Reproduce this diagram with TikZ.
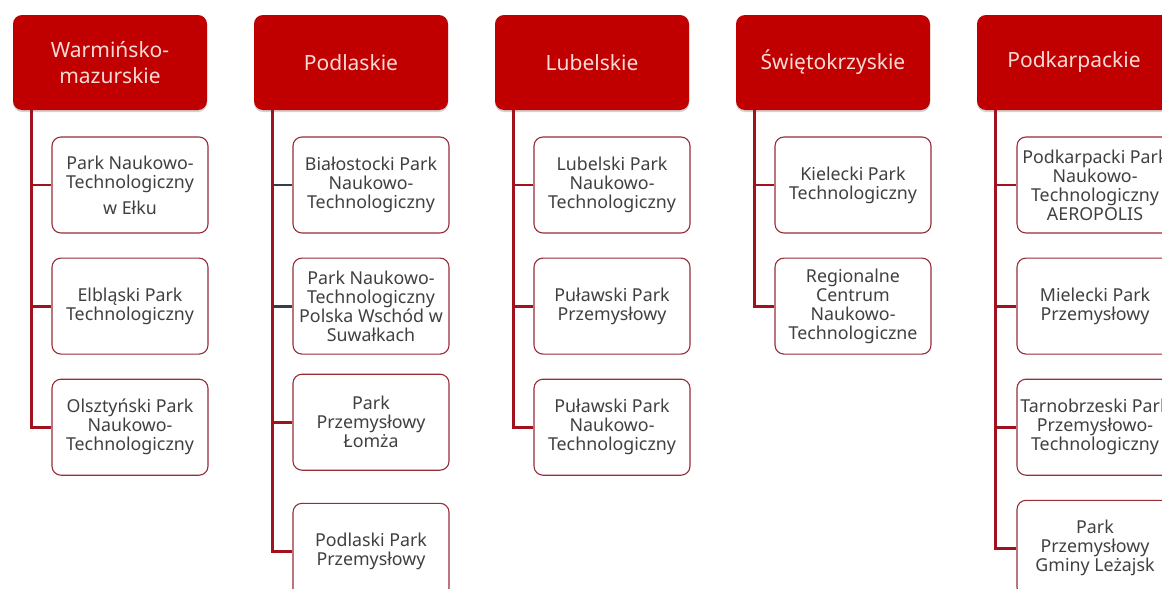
\documentclass[tikz,border=0pt]{standalone}
\usepackage{fontspec}
\setmainfont{Noto Sans}
\usetikzlibrary{positioning,shadows}

\definecolor{regionred}{RGB}{192,0,0}
\definecolor{regiontext}{RGB}{250,218,214}
\definecolor{parkedge}{RGB}{150,45,55}
\definecolor{parktext}{RGB}{64,64,64}
\definecolor{linkred}{RGB}{160,18,30}
\definecolor{linkdark}{RGB}{50,62,78}

\begin{document}
\begin{tikzpicture}[x=1pt,y=-1pt,
  region/.style={fill=regionred, rounded corners=9pt, minimum width=194pt,
    minimum height=95pt, text=regiontext, align=center,
    font=\fontsize{21}{26}\selectfont,
    drop shadow={shadow xshift=0pt, shadow yshift=-2pt, opacity=0.35}},
  park/.style={draw=parkedge, line width=1.1pt, fill=white, rounded corners=9pt,
    minimum width=156pt, minimum height=96pt, text=parktext, align=center,
    font=\fontsize{17.8}{19}\selectfont},
  link/.style={draw=linkred, line width=2.8pt},
  node distance=24pt]

\path[use as bounding box, fill=white] (0,0) rectangle (1162,589);
\clip (0,0) rectangle (1162,589);

% Warminsko-mazurskie
\node[region] (wm) at (110,62.5) {Warmińsko-\\mazurskie};
\node[park] (wm1) at (130,185) {Park Naukowo-\\Technologiczny\\[7pt]w Ełku};
\node[park, below=of wm1] (wm2) {Elbląski Park\\Technologiczny};
\node[park, below=of wm2] (wm3) {Olsztyński Park\\Naukowo-\\Technologiczny};
\coordinate (wms) at ([xshift=19pt]wm.south west);
\draw[link] (wms) |- (wm3.west);
\foreach \p in {wm1,wm2} \draw[link] (wms |- \p.west) -- (\p.west);

% Podlaskie
\node[region] (pl) at (351,62.5) {Podlaskie};
\node[park] (pl1) at (371,185) {Białostocki Park\\Naukowo-\\Technologiczny};
\node[park, below=of pl1] (pl2) {Park Naukowo-\\Technologiczny\\Polska Wschód w\\Suwałkach};
\node[park, below=19pt of pl2] (pl3) {Park\\Przemysłowy\\Łomża};
\node[park, below=32pt of pl3] (pl4) {Podlaski Park\\Przemysłowy};
\coordinate (pls) at ([xshift=19pt]pl.south west);
\draw[link] (pls) |- (pl4.west);
\draw[link] (pls |- pl3.west) -- (pl3.west);
\foreach \p in {pl1,pl2} \draw[link, draw=linkdark] (pls |- \p.west) -- (\p.west);

% Lubelskie
\node[region] (lb) at (592,62.5) {Lubelskie};
\node[park] (lb1) at (612,185) {Lubelski Park\\Naukowo-\\Technologiczny};
\node[park, below=of lb1] (lb2) {Puławski Park\\Przemysłowy};
\node[park, below=of lb2] (lb3) {Puławski Park\\Naukowo-\\Technologiczny};
\coordinate (lbs) at ([xshift=19pt]lb.south west);
\draw[link] (lbs) |- (lb3.west);
\foreach \p in {lb1,lb2} \draw[link] (lbs |- \p.west) -- (\p.west);

% Swietokrzyskie
\node[region] (sk) at (833,62.5) {Świętokrzyskie};
\node[park] (sk1) at (853,185) {Kielecki Park\\Technologiczny};
\node[park, below=of sk1] (sk2) {Regionalne\\Centrum\\Naukowo-\\Technologiczne};
\coordinate (sks) at ([xshift=19pt]sk.south west);
\draw[link] (sks) |- (sk2.west);
\draw[link] (sks |- sk1.west) -- (sk1.west);

% Podkarpackie
\node[region] (pk) at (1074,62.5) {Podkarpackie};
\node[park] (pk1) at (1095,185) {Podkarpacki Park\\Naukowo-\\Technologiczny\\AEROPOLIS};
\node[park, below=of pk1] (pk2) {Mielecki Park\\Przemysłowy};
\node[park, below=of pk2] (pk3) {Tarnobrzeski Park\\Przemysłowo-\\Technologiczny};
\node[park, below=of pk3] (pk4) {Park\\Przemysłowy\\Gminy Leżajsk};
\coordinate (pks) at ([xshift=19pt]pk.south west);
\draw[link] (pks) |- (pk4.west);
\foreach \p in {pk1,pk2,pk3} \draw[link] (pks |- \p.west) -- (\p.west);

\end{tikzpicture}
\end{document}
